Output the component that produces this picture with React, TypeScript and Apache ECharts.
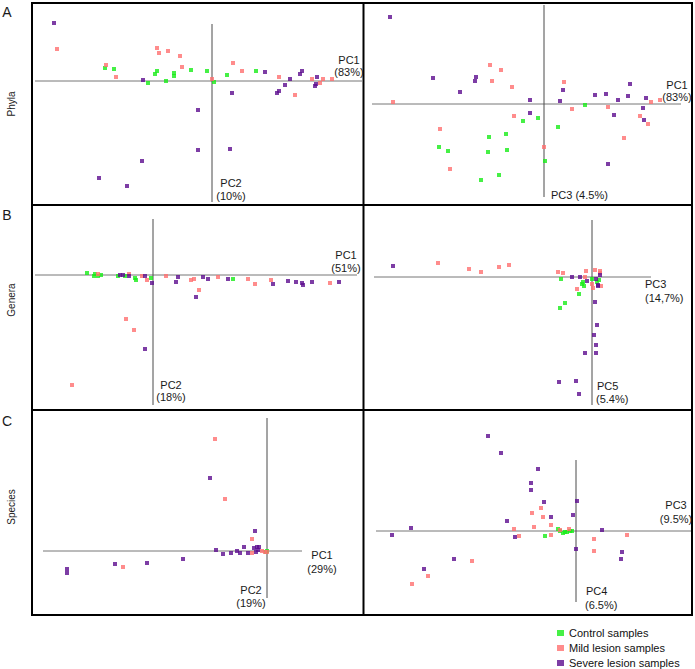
import React, { useEffect, useRef } from "react";
import * as echarts from "echarts";

// ---------- Data (PC scores, arbitrary units) ----------
// A – Phyla, PC1 vs PC2
const phylaPc12Control = [[-107, 13], [-98, 12], [-64, -2], [-57, 7], [-55, 10], [-46, 0], [-38, 8], [-38, 5], [-21, 11], [-5, 10], [2, -1], [15, 6], [44, 10]];
const phylaPc12Mild = [[-155, 32], [-106, 16], [-96, 4], [-55, 33], [-53, 28], [-44, 30], [-32, 25], [-30, 14], [0, 2], [21, 18], [30, 10], [67, 4], [83, -14], [100, 2], [108, -2], [111, 2], [120, 2]];
const phylaPc12Severe = [[-158, 58], [-69, 1], [-14, -29], [-14, -69], [-70, -80], [-113, -97], [-85, -105], [20, -12], [18, -68], [53, 9], [65, -12], [67, -10], [73, -4], [78, 2], [88, 7], [90, 10], [105, 4], [103, -5], [104, -3]];
// A – Phyla, PC1 vs PC3
const phylaPc13Control = [[-105, -43], [-96, -47], [-63, -76], [-56, -48], [-55, -33], [-45, -71], [-38, -30], [-37, -46], [-21, -17], [-6, -14], [1, -57], [14, -23], [41, -1]];
const phylaPc13Mild = [[-151, 2], [-104, -25], [-94, -65], [-54, 39], [-52, 23], [-43, 34], [-32, 17], [-30, -12], [0, -43], [20, 22], [28, -5], [64, -3], [80, -34], [96, -12], [104, -20], [107, 2], [116, 4]];
const phylaPc13Severe = [[-154, 87], [-111, 26], [-84, 12], [-69, 23], [-68, 27], [-14, 4], [-14, -9], [16, 3], [19, 14], [51, 9], [62, 10], [70, -11], [74, 4], [84, 8], [86, 20], [102, 6], [99, -4], [100, -16], [64, -60]];
// B – Genera, PC1 vs PC2
const generaPc12Control = [[-66, 2], [-59, -1], [-58, 1], [-55, -1], [-52, 0], [-35, -1], [-28, -1], [-18, -3], [-17, -5], [-2, -3], [80, -4]];
const generaPc12Mild = [[-55, 1], [-24, 1], [-11, -1], [-6, -5], [13, -1], [38, -5], [41, -4], [46, -15], [65, -2], [95, -4], [102, -9], [118, -5], [177, -8], [-27, -44], [-19, -55], [-81, -110]];
const generaPc12Severe = [[-33, 0], [-30, 0], [-24, -1], [-8, -1], [-1, -8], [23, -7], [25, -2], [43, -22], [50, -2], [55, -4], [75, -4], [120, -9], [135, -6], [143, -7], [149, -8], [150, -10], [159, -7], [186, -7], [-8, -74]];
// B – Genera, PC3 vs PC5
const generaPc35Control = [[-31, -2], [-10, -7], [-8, -9], [-9, -5], [0, -2], [7, -3], [5, -5], [-13, -17], [-27, -26], [-32, -31]];
const generaPc35Mild = [[-154, 14], [-123, 8], [-111, 5], [-93, 10], [-83, 12], [-34, 5], [-29, 4], [-6, 6], [-7, 0], [3, 7], [8, 6], [8, 4], [0, -7], [1, -11], [9, -9], [-15, -12]];
const generaPc35Severe = [[-199, 11], [-20, 0], [-12, 0], [-5, -4], [4, -2], [8, 2], [6, -9], [6, -8], [3, -25], [5, -48], [2, -58], [4, -68], [4, -76], [-7, -76], [-33, -105], [-16, -104], [-13, -117]];
// C – Species, PC1 vs PC2
const speciesPc12Control = [[0, 0], [-1, -1]];
const speciesPc12Mild = [[-52, 112], [-42, 52], [-15, 12], [-144, -16], [-15, -2], [-5, 0], [-2, -1], [0, -1]];
const speciesPc12Severe = [[-57, 73], [-12, 20], [-23, 4], [-51, 1], [-44, -3], [-36, -2], [-30, 0], [-27, -2], [-19, -2], [-13, 3], [-10, 4], [-8, 4], [-11, -1], [-9, 1], [-84, -8], [-120, -12], [-152, -13], [-200, -18], [-200, -22]];
// C – Species, PC3 vs PC4
const speciesPc34Control = [[-31, -5], [-18, 2], [-16, 0], [-13, -2], [-11, -1], [-9, -1], [-6, 0], [-4, 0]];
const speciesPc34Mild = [[-35, 23], [-44, 18], [-33, 14], [-42, 4], [-25, 6], [-62, 2], [-57, -5], [-25, -4], [-104, -30], [-148, -45], [-164, -53], [18, -8], [18, -20], [51, -4], [-7, 2], [-16, 1]];
const speciesPc34Severe = [[-88, 95], [-75, 78], [-38, 62], [-45, 48], [-45, 41], [-32, 29], [-69, 10], [-25, 14], [1, 30], [-3, 16], [-165, 3], [-184, -4], [-61, -6], [-122, -28], [-152, -38], [0, -18], [26, 1], [46, -21], [45, -28]];

const seriesNames = ["Control samples", "Mild lesion samples", "Severe lesion samples"];
const rowLabels = ["Phyla", "Genera", "Species"];
const rowLetters = ["A", "B", "C"];

// ---------- Layout / styling ----------
const COLORS = ["#18ec18", "#ff6f6f", "#5c0c8e"];
const FONT = "'Liberation Sans', Arial, sans-serif";

type Panel = {
  grid: { left: number; top: number; width: number; height: number };
  x: [number, number];
  y: [number, number];
  hLine: [number, number];
  vLine: [number, number];
  data: number[][][];
};

const panels: Panel[] = [
  { grid: { left: 33, top: 4, width: 330, height: 200 }, x: [-179, 151], y: [-123, 77], hLine: [-177, 150], vLine: [-121, 57], data: [phylaPc12Control, phylaPc12Mild, phylaPc12Severe] },
  { grid: { left: 364, top: 4, width: 327, height: 200 }, x: [-180, 147], y: [-100, 100], hLine: [-172, 137], vLine: [-93, 99], data: [phylaPc13Control, phylaPc13Mild, phylaPc13Severe] },
  { grid: { left: 33, top: 206, width: 330, height: 203 }, x: [-120, 210], y: [-134, 69], hLine: [-118, 204], vLine: [-130, 56], data: [generaPc12Control, generaPc12Mild, generaPc12Severe] },
  { grid: { left: 364, top: 206, width: 327, height: 203 }, x: [-228, 99], y: [-132, 71], hLine: [-218, 59], vLine: [-128, 57], data: [generaPc35Control, generaPc35Mild, generaPc35Severe] },
  { grid: { left: 33, top: 411, width: 330, height: 203 }, x: [-234, 96], y: [-63, 140], hLine: [-224, 35], vLine: [-47, 133], data: [speciesPc12Control, speciesPc12Mild, speciesPc12Severe] },
  { grid: { left: 364, top: 411, width: 327, height: 203 }, x: [-212, 115], y: [-83, 120], hLine: [-200, 115], vLine: [-71, 71], data: [speciesPc34Control, speciesPc34Mild, speciesPc34Severe] },
];

// axis caption texts: [text, x, y, align]
const captions: [string, number, number, string][] = [
  ["PC1", 349, 60, "center"], ["(83%)", 349, 72, "center"],
  ["PC2", 231, 183, "center"], ["(10%)", 231, 196, "center"],
  ["PC1", 677, 85, "center"], ["(83%)", 677, 97, "center"],
  ["PC3 (4.5%)", 551, 195, "left"],
  ["PC1", 346, 255, "center"], ["(51%)", 346, 268, "center"],
  ["PC2", 171, 385, "center"], ["(18%)", 171, 397, "center"],
  ["PC3", 645, 284, "left"], ["(14,7%)", 645, 298, "left"],
  ["PC5", 597, 386, "left"], ["(5.4%)", 596, 399, "left"],
  ["PC1", 322, 555, "center"], ["(29%)", 322, 569, "center"],
  ["PC2", 251, 590, "center"], ["(19%)", 251, 603, "center"],
  ["PC3", 676, 505, "center"], ["(9.5%)", 676, 519, "center"],
  ["PC4", 586, 591, "left"], ["(6.5%)", 585, 605, "left"],
];

function txt(text: string, x: number, y: number, align: string, size: number, rotation = 0) {
  return {
    type: "text",
    x,
    y,
    rotation,
    silent: true,
    z: 10,
    style: {
      text,
      fill: "#1a1a1a",
      font: `${size}px ${FONT}`,
      fontSize: size,
      fontFamily: FONT,
      textAlign: align,
      align,
      textVerticalAlign: "middle",
      verticalAlign: "middle",
    },
  };
}

export default function App() {
  const ref = useRef<HTMLDivElement>(null);

  useEffect(() => {
    if (!ref.current) return;
    const chart = echarts.init(ref.current, undefined, { renderer: "svg" });

    const grid: any[] = [];
    const xAxis: any[] = [];
    const yAxis: any[] = [];
    const series: any[] = [];

    panels.forEach((p, i) => {
      grid.push({ ...p.grid, containLabel: false });
      xAxis.push({ type: "value", gridIndex: i, min: p.x[0], max: p.x[1], show: false });
      yAxis.push({ type: "value", gridIndex: i, min: p.y[0], max: p.y[1], show: false });
      series.push({
        type: "line",
        xAxisIndex: i,
        yAxisIndex: i,
        data: [[p.hLine[0], 0], [p.hLine[1], 0]],
        symbol: "none",
        silent: true,
        lineStyle: { color: "#777777", width: 1 },
        z: 1,
      });
      series.push({
        type: "line",
        xAxisIndex: i,
        yAxisIndex: i,
        data: [[0, p.vLine[0]], [0, p.vLine[1]]],
        symbol: "none",
        silent: true,
        lineStyle: { color: "#4a4a4a", width: 1 },
        z: 1,
      });
      p.data.forEach((d, k) => {
        series.push({
          type: "scatter",
          name: seriesNames[k],
          xAxisIndex: i,
          yAxisIndex: i,
          data: d,
          symbol: "rect",
          symbolSize: 4,
          itemStyle: { color: COLORS[k] },
          z: 3 + k,
        });
      });
    });

    const graphic: any[] = [
      { type: "rect", shape: { x: 32, y: 3, width: 660, height: 612 }, style: { fill: "none", stroke: "#000", lineWidth: 2 }, silent: true },
      { type: "line", shape: { x1: 363.5, y1: 3, x2: 363.5, y2: 615 }, style: { stroke: "#000", lineWidth: 2 }, silent: true },
      { type: "line", shape: { x1: 32, y1: 205, x2: 692, y2: 205 }, style: { stroke: "#000", lineWidth: 2 }, silent: true },
      { type: "line", shape: { x1: 32, y1: 410, x2: 692, y2: 410 }, style: { stroke: "#000", lineWidth: 2 }, silent: true },
    ];
    captions.forEach((c) => graphic.push(txt(c[0], c[1], c[2], c[3], 11)));
    const letterY = [12, 215, 421];
    const labelY = [104, 300, 507];
    rowLetters.forEach((l, i) => graphic.push(txt(l, 7, letterY[i], "center", 14)));
    rowLabels.forEach((l, i) => graphic.push(txt(l, 11, labelY[i], "center", 10, Math.PI / 2)));

    chart.setOption({
      animation: false,
      backgroundColor: "#ffffff",
      grid,
      xAxis,
      yAxis,
      series,
      graphic,
      legend: {
        data: seriesNames,
        orient: "vertical",
        left: 557,
        top: 627,
        icon: "rect",
        itemWidth: 7,
        itemHeight: 6,
        itemGap: 3,
        selectedMode: false,
        textStyle: { fontSize: 11, fontFamily: FONT, color: "#111", lineHeight: 12 },
        padding: 0,
      },
    });

    return () => chart.dispose();
  }, []);

  return (
    <div
      ref={ref}
      style={{ position: "absolute", left: 0, top: 0, width: 695, height: 669, background: "#fff" }}
    />
  );
}
